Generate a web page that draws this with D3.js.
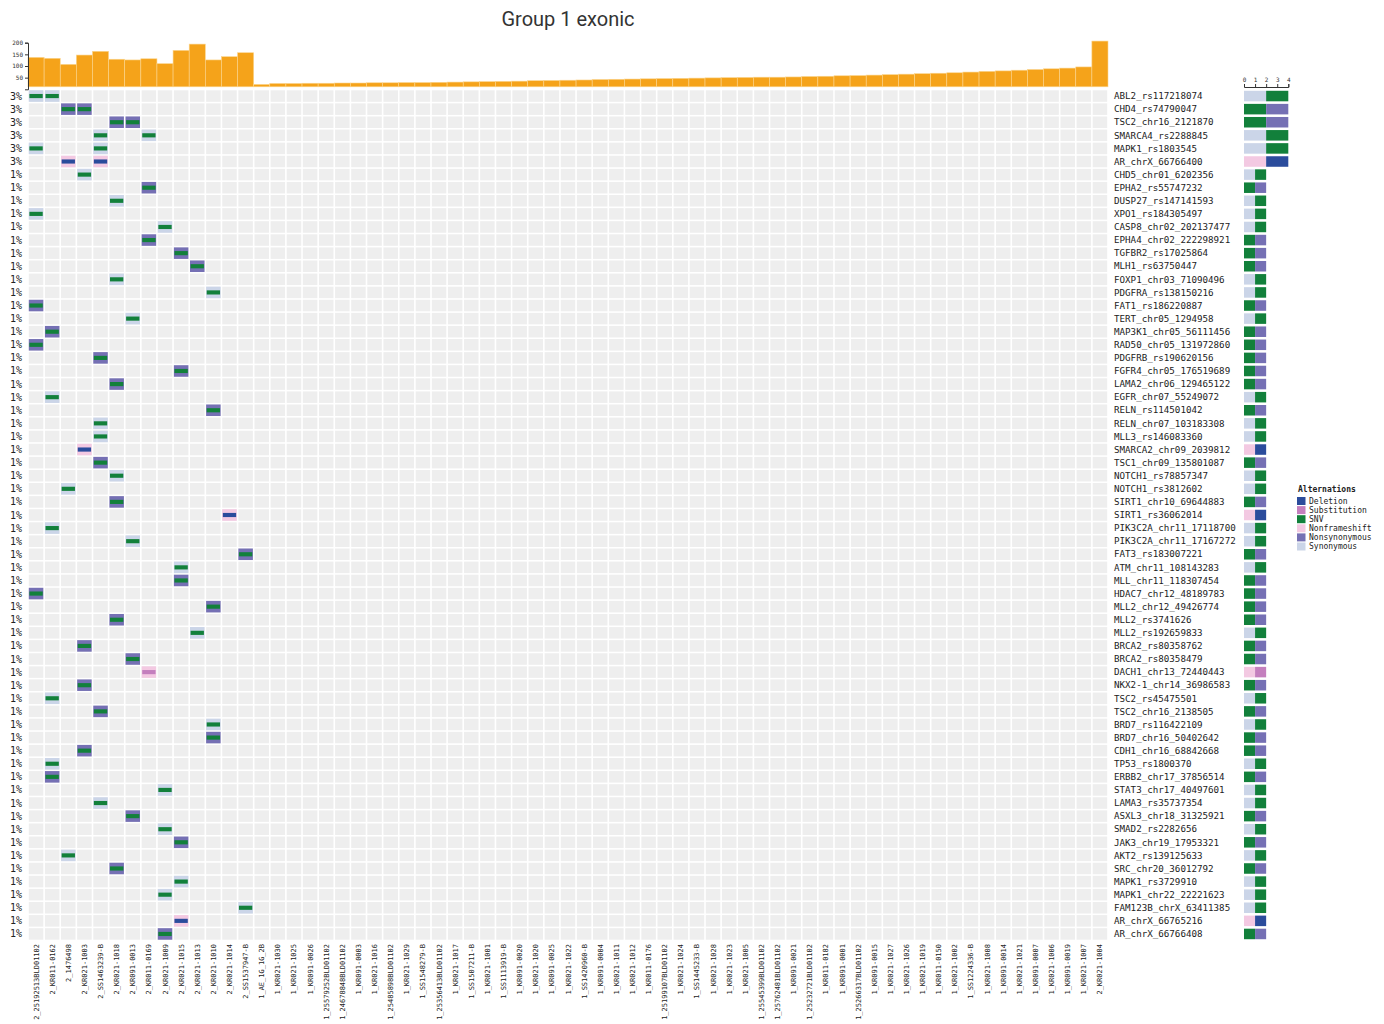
<!DOCTYPE html>
<html>
<head>
<meta charset="utf-8">
<script src="https://cdn.jsdelivr.net/npm/d3@7/dist/d3.min.js"></script>
<style>
body { margin: 0; background: #fff; }
text { font-family: "DejaVu Sans Mono", monospace; fill: #222; }
</style>
</head>
<body>
<script>
// samples (columns), in plot order
var samples = ["2_25192513BLD01102","2_KR011-0162","2_1476498","2_KR021-1003","2_SS1463239-B","2_KR021-1018",
    "2_KR091-0013","2_KR011-0169","2_KR021-1009","2_KR021-1015","2_KR021-1013","2_KR021-1010","2_KR021-1014",
    "2_SS1537947-B","1_AE_1G_1G_2B","1_KR021-1030","1_KR021-1025","1_KR091-0026","1_25579252BLD01102",
    "1_24678848BLD01102","1_KR091-0003","1_KR021-1016","1_25485898BLD01102","1_KR021-1029","1_SS1548279-B",
    "1_25356413BLD01102","1_KR021-1017","1_SS1507211-B","1_KR021-1001","1_SS1113919-B","1_KR091-0020",
    "1_KR021-1020","1_KR091-0025","1_KR021-1022","1_SS1420960-B","1_KR091-0004","1_KR021-1011","1_KR021-1012",
    "1_KR011-0176","1_25199107BLD01102","1_KR021-1024","1_SS1445233-B","1_KR021-1028","1_KR021-1023",
    "1_KR021-1005","1_25545399BLD01102","1_25762481BLD01102","1_KR091-0021","1_25232721BLD01102","1_KR011-0182",
    "1_KR091-0001","1_25266317BLD01102","1_KR091-0015","1_KR021-1027","1_KR021-1026","1_KR021-1019",
    "1_KR011-0150","1_KR021-1002","1_SS1224336-B","1_KR021-1008","1_KR091-0014","1_KR021-1021","1_KR091-0007",
    "1_KR021-1006","1_KR091-0019","1_KR021-1007","2_KR021-1004"];

// top bar values per sample
var sampleTotals = [137,133,107,147,163,129,126,131,110,167,194,126,140,157,
    21,25,25,26,26,27,27,28,28,29,29,30,31,32,33,34,35,37,38,39,40,42,43,44,45,46,47,48,49,50,
    51,52,52,53,55,56,58,59,61,63,65,67,69,71,74,77,79,82,85,88,91,96,207];

// genes / variants (rows)
var genes = ["ABL2_rs117218074","CHD4_rs74790047","TSC2_chr16_2121870","SMARCA4_rs2288845","MAPK1_rs1803545",
    "AR_chrX_66766400","CHD5_chr01_6202356","EPHA2_rs55747232","DUSP27_rs147141593","XPO1_rs184305497",
    "CASP8_chr02_202137477","EPHA4_chr02_222298921","TGFBR2_rs17025864","MLH1_rs63750447","FOXP1_chr03_71090496",
    "PDGFRA_rs138150216","FAT1_rs186220887","TERT_chr05_1294958","MAP3K1_chr05_56111456","RAD50_chr05_131972860",
    "PDGFRB_rs190620156","FGFR4_chr05_176519689","LAMA2_chr06_129465122","EGFR_chr07_55249072","RELN_rs114501042",
    "RELN_chr07_103183308","MLL3_rs146083360","SMARCA2_chr09_2039812","TSC1_chr09_135801087","NOTCH1_rs78857347",
    "NOTCH1_rs3812602","SIRT1_chr10_69644883","SIRT1_rs36062014","PIK3C2A_chr11_17118700","PIK3C2A_chr11_17167272",
    "FAT3_rs183007221","ATM_chr11_108143283","MLL_chr11_118307454","HDAC7_chr12_48189783","MLL2_chr12_49426774",
    "MLL2_rs3741626","MLL2_rs192659833","BRCA2_rs80358762","BRCA2_rs80358479","DACH1_chr13_72440443",
    "NKX2-1_chr14_36986583","TSC2_rs45475501","TSC2_chr16_2138505","BRD7_rs116422109","BRD7_chr16_50402642",
    "CDH1_chr16_68842668","TP53_rs1800370","ERBB2_chr17_37856514","STAT3_chr17_40497601","LAMA3_rs35737354",
    "ASXL3_chr18_31325921","SMAD2_rs2282656","JAK3_chr19_17953321","AKT2_rs139125633","SRC_chr20_36012792",
    "MAPK1_rs3729910","MAPK1_chr22_22221623","FAM123B_chrX_63411385","AR_chrX_66765216","AR_chrX_66766408"];

// hits: [row, column, class, variant]
var hits = [
    [0,0,"Synonymous","SNV"],[0,1,"Synonymous","SNV"],
    [1,2,"Nonsynonymous","SNV"],[1,3,"Nonsynonymous","SNV"],
    [2,5,"Nonsynonymous","SNV"],[2,6,"Nonsynonymous","SNV"],
    [3,4,"Synonymous","SNV"],[3,7,"Synonymous","SNV"],
    [4,0,"Synonymous","SNV"],[4,4,"Synonymous","SNV"],
    [5,2,"Nonframeshift","Deletion"],[5,4,"Nonframeshift","Deletion"],
    [6,3,"Synonymous","SNV"],[7,7,"Nonsynonymous","SNV"],[8,5,"Synonymous","SNV"],[9,0,"Synonymous","SNV"],
    [10,8,"Synonymous","SNV"],[11,7,"Nonsynonymous","SNV"],[12,9,"Nonsynonymous","SNV"],[13,10,"Nonsynonymous","SNV"],
    [14,5,"Synonymous","SNV"],[15,11,"Synonymous","SNV"],[16,0,"Nonsynonymous","SNV"],[17,6,"Synonymous","SNV"],
    [18,1,"Nonsynonymous","SNV"],[19,0,"Nonsynonymous","SNV"],[20,4,"Nonsynonymous","SNV"],[21,9,"Nonsynonymous","SNV"],
    [22,5,"Nonsynonymous","SNV"],[23,1,"Synonymous","SNV"],[24,11,"Nonsynonymous","SNV"],[25,4,"Synonymous","SNV"],
    [26,4,"Synonymous","SNV"],[27,3,"Nonframeshift","Deletion"],[28,4,"Nonsynonymous","SNV"],[29,5,"Synonymous","SNV"],
    [30,2,"Synonymous","SNV"],[31,5,"Nonsynonymous","SNV"],[32,12,"Nonframeshift","Deletion"],[33,1,"Synonymous","SNV"],
    [34,6,"Synonymous","SNV"],[35,13,"Nonsynonymous","SNV"],[36,9,"Synonymous","SNV"],[37,9,"Nonsynonymous","SNV"],
    [38,0,"Nonsynonymous","SNV"],[39,11,"Nonsynonymous","SNV"],[40,5,"Nonsynonymous","SNV"],[41,10,"Synonymous","SNV"],
    [42,3,"Nonsynonymous","SNV"],[43,6,"Nonsynonymous","SNV"],[44,7,"Nonframeshift","Substitution"],[45,3,"Nonsynonymous","SNV"],
    [46,1,"Synonymous","SNV"],[47,4,"Nonsynonymous","SNV"],[48,11,"Synonymous","SNV"],[49,11,"Nonsynonymous","SNV"],
    [50,3,"Nonsynonymous","SNV"],[51,1,"Synonymous","SNV"],[52,1,"Nonsynonymous","SNV"],[53,8,"Synonymous","SNV"],
    [54,4,"Synonymous","SNV"],[55,6,"Nonsynonymous","SNV"],[56,8,"Synonymous","SNV"],[57,9,"Nonsynonymous","SNV"],
    [58,2,"Synonymous","SNV"],[59,5,"Nonsynonymous","SNV"],[60,9,"Synonymous","SNV"],[61,8,"Synonymous","SNV"],
    [62,13,"Synonymous","SNV"],[63,9,"Nonframeshift","Deletion"],[64,8,"Nonsynonymous","SNV"]
];

var categories = ["Deletion","Substitution","SNV","Nonframeshift","Nonsynonymous","Synonymous"];
var catColors = ["#2b4c9c","#c47fbe","#12803b","#f3c9e2","#7570b4","#cbd5e8"];
// order of segments inside the right-hand bars
var stackOrder = ["Nonframeshift","Synonymous","SNV","Substitution","Deletion","Nonsynonymous"];

var color = d3.scaleOrdinal().domain(categories).range(catColors);

var svg = d3.select("body").append("svg")
    .attr("width", 1384)
    .attr("height", 1024);

svg.append("text")
    .attr("x", 568)
    .attr("y", 26)
    .attr("text-anchor", "middle")
    .style("font-family", "Roboto, 'Open Sans', sans-serif")
    .style("font-size", "20px")
    .style("fill", "#333")
    .text("Group 1 exonic");

// scales
var x = d3.scaleBand().domain(samples).range([28, 1108]).paddingInner(0.1).paddingOuter(0.05);
var xBar = d3.scaleBand().domain(samples).range([28, 1108]).padding(0);
var y = d3.scaleBand().domain(genes).range([89.5, 940.5]).paddingInner(0.12).paddingOuter(0.06);
var yTop = d3.scaleLinear().domain([0, 200]).range([89.3, 42.7]);

// top bar chart
svg.append("g").selectAll("rect")
    .data(samples)
    .enter()
    .append("rect")
    .attr("x", function (d) { return xBar(d); })
    .attr("width", xBar.bandwidth())
    .attr("y", function (d, i) { return yTop(sampleTotals[i]); })
    .attr("height", function (d, i) { return Math.max(0, yTop(0) - 2.5 - yTop(sampleTotals[i])); })
    .style("fill", "#f5a31a")
    .style("stroke", "#fbd58e")
    .style("stroke-width", 0.6);

var topAxis = svg.append("g")
    .attr("transform", "translate(28,0)")
    .call(d3.axisLeft(yTop).tickValues([50, 100, 150, 200]).tickSize(3).tickPadding(2));
topAxis.selectAll("text").style("font-size", "6px").style("fill", "#333");
topAxis.selectAll("line,path").style("stroke", "#333");

// grid cells
var cells = [];
genes.forEach(function (g) {
    samples.forEach(function (s) {
        cells.push({gene: g, sample: s});
    });
});

svg.append("g").selectAll("rect")
    .data(cells)
    .enter()
    .append("rect")
    .attr("x", function (d) { return x(d.sample); })
    .attr("y", function (d) { return y(d.gene); })
    .attr("width", x.bandwidth())
    .attr("height", y.bandwidth())
    .style("fill", "#eeeeee");

var hitData = hits.map(function (h) {
    return {gene: genes[h[0]], sample: samples[h[1]], cls: h[2], kind: h[3]};
});

var hitG = svg.append("g");
hitG.selectAll("rect.cls")
    .data(hitData)
    .enter()
    .append("rect")
    .attr("class", "cls")
    .attr("x", function (d) { return x(d.sample); })
    .attr("y", function (d) { return y(d.gene); })
    .attr("width", x.bandwidth())
    .attr("height", y.bandwidth())
    .style("fill", function (d) { return color(d.cls); });

hitG.selectAll("rect.kind")
    .data(hitData)
    .enter()
    .append("rect")
    .attr("class", "kind")
    .attr("x", function (d) { return x(d.sample) + 0.6; })
    .attr("y", function (d) { return y(d.gene) + y.bandwidth() * 0.32; })
    .attr("width", x.bandwidth() - 1.2)
    .attr("height", y.bandwidth() * 0.36)
    .style("fill", function (d) { return color(d.kind); });

// percentage labels on the left
svg.append("g").selectAll("text")
    .data(genes)
    .enter()
    .append("text")
    .attr("x", 22)
    .attr("y", function (d) { return y(d) + y.bandwidth() / 2; })
    .attr("dy", "0.35em")
    .attr("text-anchor", "end")
    .style("font-size", "10px")
    .text(function (d) {
        var n = hitData.filter(function (h) { return h.gene === d; }).length;
        return Math.round(n / samples.length * 100) + "%";
    });

// gene labels on the right
svg.append("g").selectAll("text")
    .data(genes)
    .enter()
    .append("text")
    .attr("x", 1114)
    .attr("y", function (d) { return y(d) + y.bandwidth() / 2; })
    .attr("dy", "0.35em")
    .style("font-size", "9.2px")
    .text(function (d) { return d; });

// sample labels at the bottom
svg.append("g").selectAll("text")
    .data(samples)
    .enter()
    .append("text")
    .attr("transform", function (d) {
        return "translate(" + (x(d) + x.bandwidth() / 2 + 2.5) + ",944) rotate(-90)";
    })
    .attr("text-anchor", "end")
    .style("font-size", "7px")
    .text(function (d) { return d; });

// right-hand stacked bars (count per category)
var xr = d3.scaleLinear().domain([0, 4]).range([1244, 1288.3]);
var stacks = [];
genes.forEach(function (g) {
    var rows = hitData.filter(function (h) { return h.gene === g; });
    var acc = 0;
    stackOrder.forEach(function (c) {
        var n = rows.filter(function (h) { return h.cls === c || h.kind === c; }).length;
        if (n > 0) {
            stacks.push({gene: g, cat: c, x0: acc, x1: acc + n});
            acc += n;
        }
    });
});

svg.append("g").selectAll("rect")
    .data(stacks)
    .enter()
    .append("rect")
    .attr("x", function (d) { return xr(d.x0); })
    .attr("width", function (d) { return xr(d.x1) - xr(d.x0); })
    .attr("y", function (d) { return y(d.gene) + 0.5; })
    .attr("height", y.bandwidth() - 1)
    .style("fill", function (d) { return color(d.cat); });

var rAxis = svg.append("g")
    .attr("transform", "translate(0,87)")
    .call(d3.axisTop(xr).ticks(4).tickSize(3).tickPadding(2));
rAxis.selectAll("text").style("font-size", "6px").style("fill", "#333");
rAxis.selectAll("line,path").style("stroke", "#333");

// legend
var legend = svg.append("g").attr("transform", "translate(1297,0)");
legend.append("text")
    .attr("x", 1)
    .attr("y", 492)
    .style("font-size", "8px")
    .style("font-weight", "bold")
    .text("Alternations");

legend.selectAll("rect")
    .data(categories)
    .enter()
    .append("rect")
    .attr("x", 0)
    .attr("y", function (d, i) { return 497 + i * 9.1; })
    .attr("width", 8.5)
    .attr("height", 8)
    .style("fill", function (d) { return color(d); });

legend.selectAll("text.item")
    .data(categories)
    .enter()
    .append("text")
    .attr("class", "item")
    .attr("x", 12)
    .attr("y", function (d, i) { return 501 + i * 9.1; })
    .attr("dy", "0.35em")
    .style("font-size", "8px")
    .text(function (d) { return d; });
</script>
</body>
</html>
